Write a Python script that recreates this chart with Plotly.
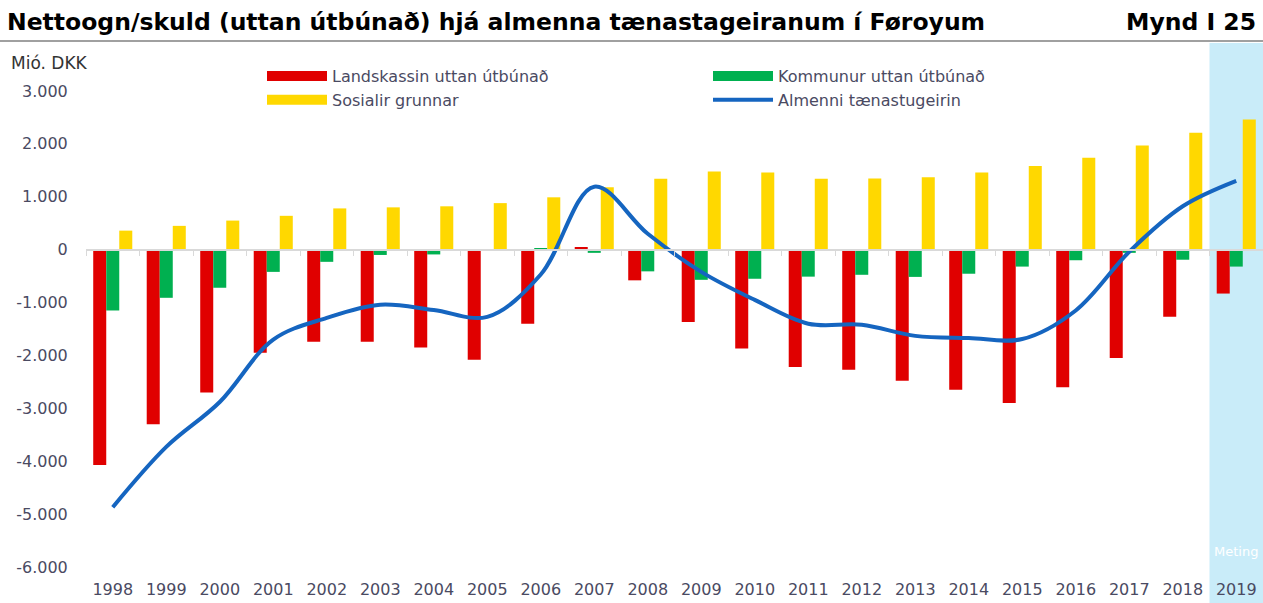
import plotly.graph_objects as go

years = [str(y) for y in range(1998, 2020)]
landskassin = [-4070, -3300, -2700, -1950, -1740, -1740, -1850, -2080, -1400, 50,
               -580, -1370, -1870, -2220, -2270, -2480, -2650, -2900, -2600, -2050, -1270, -830]
kommunur = [-1150, -910, -720, -420, -230, -100, -90, -10, 20, -60,
            -410, -570, -550, -510, -475, -515, -455, -320, -200, -60, -190, -320]
sosialir = [360, 450, 550, 640, 780, 800, 820, 880, 990, 1180,
            1340, 1480, 1460, 1340, 1345, 1370, 1460, 1580, 1740, 1970, 2210, 2460]
almenni = [-4870, -3730, -2880, -1700, -1290, -1040, -1140, -1270, -470, 1190,
           300, -420, -950, -1400, -1420, -1630, -1670, -1690, -1150, -40, 820, 1300]
ytick_vals = [-6000, -5000, -4000, -3000, -2000, -1000, 0, 1000, 2000, 3000]
ytick_text = ["-6.000", "-5.000", "-4.000", "-3.000", "-2.000", "-1.000", "0", "1.000", "2.000", "3.000"]

names = ["Landskassin uttan útbúnað", "Kommunur uttan útbúnað", "Sosialir grunnar", "Almenni tænastugeirin"]
RED, GREEN, YELLOW, BLUE = "#e00000", "#00b050", "#ffd800", "#1565c0"
TXT = "#4a4a62"
FONT = "DejaVu Sans"

fig = go.Figure()
for vals, col, nm in [(landskassin, RED, names[0]), (kommunur, GREEN, names[1]), (sosialir, YELLOW, names[2])]:
    fig.add_trace(go.Bar(x=years, y=vals, marker=dict(color=col, line=dict(width=0)),
                         name=nm, showlegend=False))
fig.add_trace(go.Scatter(x=years, y=almenni, mode="lines", line=dict(color=BLUE, width=4, shape="spline", smoothing=1.0),
                         name=names[3], showlegend=False))
# invisible trace to register categories on the zero-line axis
fig.add_trace(go.Scatter(x=years, y=[None] * len(years), xaxis="x2", showlegend=False, hoverinfo="skip"))

# legend entries (wide swatches)
for col, nm in [(RED, names[0]), (GREEN, names[1]), (YELLOW, names[2])]:
    fig.add_trace(go.Scatter(x=[None], y=[None], mode="lines", line=dict(color=col, width=12), name=nm))
fig.add_trace(go.Scatter(x=[None], y=[None], mode="lines", line=dict(color=BLUE, width=4), name=names[3]))

W, H = 1263, 603
L, R, T, B = 86, 0, 91, 36
ph = H - T - B
pw = W - L - R

def py(pix):
    return (H - B - pix) / ph

def px(pix):
    return (pix - L) / pw

fig.update_layout(
    width=W, height=H,
    margin=dict(l=L, r=R, t=T, b=B),
    paper_bgcolor="white", plot_bgcolor="white",
    barmode="group", bargap=0.27, bargroupgap=0,
    font=dict(family=FONT, color=TXT, size=16),
    title=dict(text="<b>Nettoogn/skuld (uttan útbúnað) hjá almenna tænastageiranum í Føroyum</b>",
               x=7 / W, xanchor="left", y=1 - 22 / H, yanchor="middle",
               font=dict(family=FONT, size=23.5, color="#000000")),
    xaxis=dict(type="category", categoryarray=years, range=[-0.5, 21.5], showgrid=False, showline=False,
               ticks="outside", ticklen=8, tickcolor="rgba(0,0,0,0)", zeroline=False,
               tickfont=dict(size=16, color=TXT)),
    xaxis2=dict(type="category", categoryarray=years, overlaying="x", matches="x", anchor="free",
                position=py(250), showline=True, linecolor="#d9d9d9", linewidth=1.5,
                ticks="outside", tickson="boundaries", ticklen=5, tickcolor="#d9d9d9",
                showticklabels=False, showgrid=False, zeroline=False),
    yaxis=dict(range=[-6000, 3000], tickvals=ytick_vals, ticktext=ytick_text, showgrid=False,
               zeroline=False, showline=False, ticks="outside", ticklen=14, tickcolor="rgba(0,0,0,0)",
               tickfont=dict(size=16, color=TXT)),
    legend=dict(orientation="h", x=px(262), xanchor="left", y=py(59), yanchor="top",
                entrywidth=371, entrywidthmode="pixels", itemwidth=60,
                font=dict(size=16, color=TXT), bgcolor="rgba(0,0,0,0)", tracegroupgap=0),
    shapes=[
        dict(type="rect", xref="x", yref="paper", x0=20.5, x1=21.5, y0=py(603), y1=py(43),
             fillcolor="#c9ecf9", line=dict(width=0), layer="below"),
        dict(type="line", xref="paper", yref="paper", x0=px(0), x1=1, y0=py(41), y1=py(41),
             line=dict(color="#a0a0a0", width=2)),
    ],
    annotations=[
        dict(text="<b>Mynd I 25</b>", xref="paper", yref="paper", x=1, xanchor="right", xshift=-5,
             y=py(22), yanchor="middle", showarrow=False, font=dict(family=FONT, size=23.5, color="#000000")),
        dict(text="Mió. DKK", xref="paper", yref="paper", x=px(9), xanchor="left", y=py(63), yanchor="middle",
             showarrow=False, font=dict(size=17, color="#333333")),
        dict(text="Meting", xref="x", yref="paper", x=21, xanchor="center", y=py(551), yanchor="middle",
             showarrow=False, font=dict(size=13, color="white")),
    ],
)

fig.write_html("out.html", config={"displayModeBar": False},
               post_script="document.body.style.margin='0';document.body.style.overflow='hidden';")
